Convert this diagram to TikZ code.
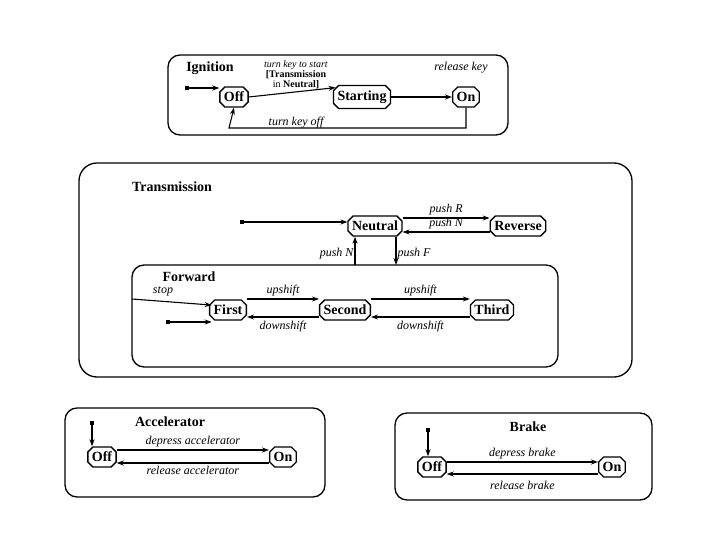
\documentclass[tikz,border=0pt]{standalone}
\usepackage{fontspec}
\setmainfont{Liberation Serif}
\usetikzlibrary{shapes.misc, arrows.meta, calc}

\tikzset{
  state/.style={chamfered rectangle, chamfered rectangle xsep=2pt, draw, line width=1.3pt,
    font=\fontsize{14}{15}\selectfont\bfseries, inner sep=2pt, minimum height=20pt},
  box/.style={draw, line width=1.3pt, rounded corners=12pt},
  title/.style={font=\fontsize{14}{15}\selectfont\bfseries},
  lab/.style={font=\fontsize{12}{13}\selectfont\itshape},
  tr/.style={-{Stealth[length=7pt,width=5pt]}, line width=1.1pt},
  dot/.style={fill, inner sep=0pt, minimum size=4pt}
}

\begin{document}
\begin{tikzpicture}[x=1pt, y=-1pt]
  \useasboundingbox (0,0) rectangle (720,540);
  % Ignition
  \draw[box] (168,55) rectangle (508,135);
  \node[title] at (210,68) {Ignition};
  \node[state] (ioff) at (234,97) {Off};
  \node[state] (istart) at (362,97) {Starting};
  \node[state] (ion) at (466,97) {On};
  \node[dot] (idot) at (187,88) {};
  \draw[tr] (idot) -- (idot -| ioff.west);
  \draw[tr] (ioff.east) -- (istart.north west);
  \draw[tr] (istart.east) -- (ion.west);
  \draw[tr] (ion.south) |- (229,128) -- (ioff.south);
  \node[font=\fontsize{10}{10}\selectfont, align=center, inner sep=0pt] at (296,75)
    {\textit{turn key to start}\\\textbf{[Transmission}\\in \textbf{Neutral]}};
  \node[lab] at (461,68) {release key};
  \node[lab] at (296,123) {turn key off};

  % Transmission
  \draw[box, rounded corners=18pt] (79,163) rectangle (632,377);
  \node[title] at (172,187) {Transmission};
  \node[state] (neutral) at (375,226) {Neutral};
  \node[state] (reverse) at (518,226) {Reverse};
  \node[dot] (tdot) at (242,222) {};
  \draw[tr] (tdot) -- (tdot -| neutral.west);
  \draw[tr] ([yshift=8pt]neutral.east) -- ([yshift=8pt]reverse.west) node[lab, midway, above=-1pt] {push R};
  \draw[tr] ([yshift=-6pt]reverse.west) -- ([yshift=-6pt]neutral.east) node[lab, midway, above=-1pt] {push N};

  % Forward
  \draw[box] (132,265) rectangle (558,367);
  \node[title] at (189,277) {Forward};
  \node[state] (first) at (228,310) {First};
  \node[state] (second) at (345,310) {Second};
  \node[state] (third) at (492,310) {Third};
  \coordinate (pn) at (355,265);
  \coordinate (pf) at (396,265);
  \draw[tr] (pn) -- (pn |- neutral.south) ;
  \node[lab, left] at (357,254) {push N};
  \draw[tr] (pf |- neutral.south) -- (pf);
  \node[lab, right] at (394,254) {push F};
  \coordinate (stopin) at (132,299);
  \draw[tr] (stopin) -- ([yshift=-3pt]first.north west);
  \node[lab] at (163,291) {stop};
  \node[dot] (fdot) at (168,322) {};
  \draw[tr] (fdot) -- (fdot -| first.south west);
  \draw[tr] ([yshift=11pt]first.east) -- ([yshift=11pt]second.west) node[lab, midway, above=-1pt] {upshift};
  \draw[tr] ([yshift=-7pt]second.west) -- ([yshift=-7pt]first.east) node[lab, midway, below=0pt] {downshift};
  \draw[tr] ([yshift=11pt]second.east) -- ([yshift=11pt]third.west) node[lab, midway, above=-1pt] {upshift};
  \draw[tr] ([yshift=-7pt]third.west) -- ([yshift=-7pt]second.east) node[lab, midway, below=0pt] {downshift};

  % Accelerator
  \draw[box] (65,408) rectangle (325,497);
  \node[title] at (170,422) {Accelerator};
  \node[state] (aoff) at (102,457) {Off};
  \node[state] (aon) at (283,457) {On};
  \node[dot] (adot) at (92,423) {};
  \draw[tr] (adot) -- (adot |- aoff.north);
  \draw[tr] ([yshift=7pt]aoff.east) -- ([yshift=7pt]aon.west) node[lab, midway, above=-1pt] {depress accelerator};
  \draw[tr] ([yshift=-6pt]aon.west) -- ([yshift=-6pt]aoff.east) node[lab, midway, below=-1pt] {release accelerator};

  % Brake
  \draw[box] (395,413) rectangle (652,500);
  \node[title] at (528,427) {Brake};
  \node[state] (boff) at (432,467) {Off};
  \node[state] (bon) at (612,467) {On};
  \node[dot] (bdot) at (428,430) {};
  \draw[tr] (bdot) -- (bdot |- boff.north);
  \draw[tr] ([yshift=5pt]boff.east) -- ([yshift=5pt]bon.west) node[lab, midway, above=-1pt] {depress brake};
  \draw[tr] ([yshift=-7pt]bon.west) -- ([yshift=-7pt]boff.east) node[lab, midway, below=3pt] {release brake};
\end{tikzpicture}
\end{document}
